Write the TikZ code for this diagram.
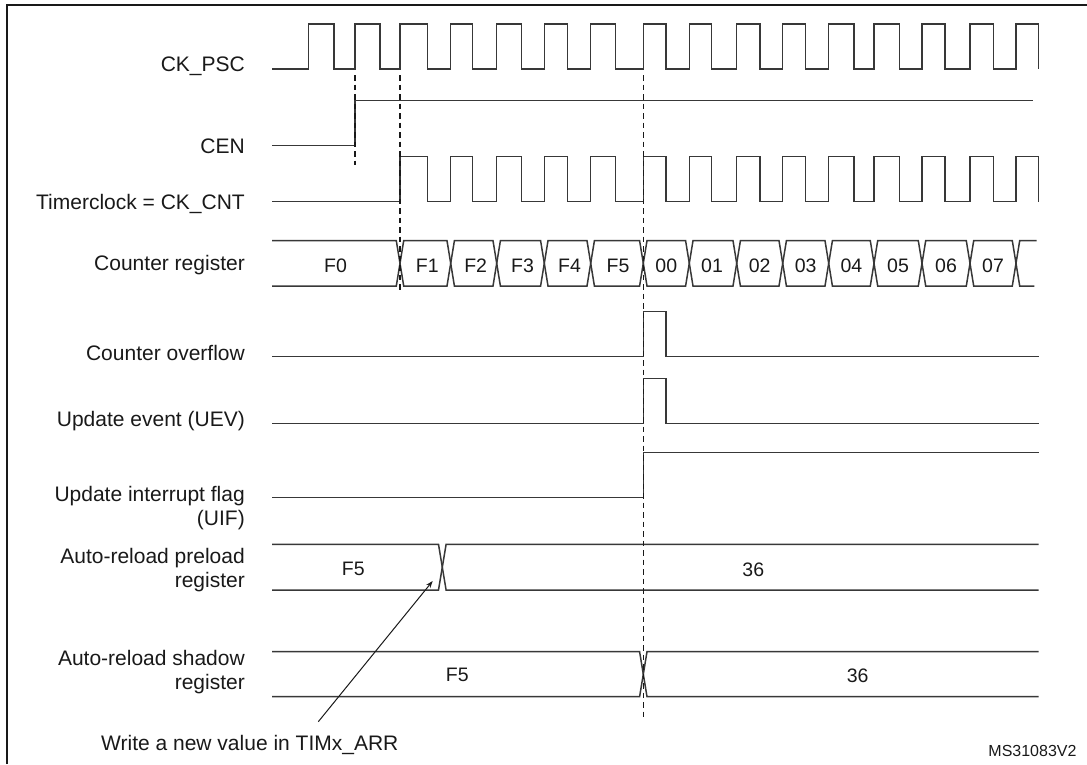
\documentclass[tikz,border=0pt]{standalone}
\usepackage{fontspec}
\setmainfont{Liberation Sans}
\usetikzlibrary{arrows.meta}
\begin{document}
\begin{tikzpicture}[x=1pt,y=-1pt,
  sig/.style={draw=black!78, line width=1.5pt, line join=miter},
  dsh/.style={draw=black!90, line width=1.6pt, dash pattern=on 5.5pt off 4pt},
  lab/.style={inner sep=0pt, anchor=base east, text=black!90, font=\fontsize{21}{24}\selectfont},
  val/.style={inner sep=0pt, anchor=base, text=black!90, font=\fontsize{19.5}{22}\selectfont}]
\useasboundingbox (0,0) rectangle (1087,764);
% frame
\draw[line width=2pt, black!90] (7,764) -- (7,5) -- (1087,5);

% labels
\node[lab] (lckpsc) at (245,71.7) {CK\_PSC};
\node[lab] (lcen) at (245,153) {CEN};
\node[lab] (ltc) at (245,209) {Timerclock = CK\_CNT};
\node[lab] (lcr) at (245,270.7) {Counter register};
\node[lab] (lco) at (245,360) {Counter overflow};
\node[lab] (luev) at (245,426) {Update event (UEV)};
\node[lab] (luif1) at (245,501.7) {Update interrupt flag};
\node[lab] (luif2) at (245,525.7) {(UIF)};
\node[lab] (lpre1) at (245,563) {Auto-reload preload};
\node[lab] (lpre2) at (245,587) {register};
\node[lab] (lsha1) at (245,665) {Auto-reload shadow};
\node[lab] (lsha2) at (245,689) {register};

% CK_PSC
\draw[sig] (272,69) foreach \r/\f in {308.3/334, 355/380, 400/427.7, 450.7/472.7, 496.7/521.7, 544.3/567.3, 590.7/615.7, 643.3/666, 689.3/711.7, 736.7/760, 782.7/805.7, 828.7/854, 874/899.3, 922/945, 970/993.3, 1016/1038.7} { -- (\r,69) -- (\r,24) -- (\f,24) -- (\f,69) };

% CEN
\draw[sig] (272,145.7) -- (355,145.7) -- (355,100.3) -- (1033.3,100.3);

% Timerclock
\draw[sig] (272,201.7) foreach \r/\f in {400/427.7, 450.7/472.7, 496.7/521.7, 544.3/567.3, 590.7/615.7, 643.3/666, 689.3/711.7, 736.7/760, 782.7/805.7, 828.7/854, 874/899.3, 922/945, 970/993.3, 1016/1038.7} { -- (\r,201.7) -- (\r,156.7) -- (\f,156.7) -- (\f,201.7) };

% Counter register
\draw[sig] (272,240.7) -- (396.3,240.7) -- (400,263.3) -- (396.3,286) -- (272,286);
\node[val] (vF0) at (335.5,272) {F0};
\foreach \a/\b/\t/\o in {400/450.7/F1/2, 450.7/496.7/F2/2, 496.7/544.3/F3/2, 544.3/590.7/F4/2, 590.7/643.3/F5/1, 643.3/689.3/00/0, 689.3/736.7/01/-1, 736.7/782.7/02/0, 782.7/828.7/03/0, 828.7/874/04/0, 874/922/05/0, 922/970/06/0, 970/1016/07/0}{
  \draw[sig] (\a,263.3) -- ({\a+3.7},240.7) -- ({\b-3.7},240.7) -- (\b,263.3) -- ({\b-3.7},286) -- ({\a+3.7},286) -- cycle;
  \node[val] (v\t) at ({(\a+\b)/2+\o},272) {\t};
}
\draw[sig] (1036.7,240.7) -- (1019.7,240.7) -- (1016,263.3) -- (1019.7,286) -- (1034.3,286);

% Counter overflow
\draw[sig] (272,356.7) -- (643.3,356.7) -- (643.3,311.7) -- (666,311.7) -- (666,356.7) -- (1039,356.7);
% UEV
\draw[sig] (272,423.3) -- (643.3,423.3) -- (643.3,378.3) -- (666,378.3) -- (666,423.3) -- (1039,423.3);
% UIF
\draw[sig] (272,497.7) -- (643.3,497.7) -- (643.3,452.7) -- (1039,452.7);

% Auto-reload preload
\draw[sig] (272,544.3) -- (438.5,544.3) -- (442.3,567.2) -- (438.5,590) -- (272,590);
\draw[sig] (1038.7,544.3) -- (446.1,544.3) -- (442.3,567.2) -- (446.1,590) -- (1038.7,590);
\node[val] (pF5) at (353.3,575.5) {F5};
\node[val] (p36) at (753.3,576) {36};

% Auto-reload shadow
\draw[sig] (272,651.7) -- (639.6,651.7) -- (643.3,674.2) -- (639.6,696.7) -- (272,696.7);
\draw[sig] (1038.7,651.7) -- (647,651.7) -- (643.3,674.2) -- (647,696.7) -- (1038.7,696.7);
\node[val] (sF5) at (457.3,681.7) {F5};
\node[val] (s36) at (857.7,682.5) {36};

% dashed markers
\draw[dsh] (355,75) -- (355,165);
\draw[dsh] (400,75) -- (400,293);
\draw[dsh] (643.3,75) -- (643.3,717);

% annotation
\node[lab, anchor=base west] (note) at (101,750.7) {Write a new value in TIMx\_ARR};
\coordinate (arrS) at (318.3,721.7);
\coordinate (arrE) at (432.7,581);
\draw[black!90, line width=1pt, -{Stealth[length=7pt,width=5pt]}] (arrS) -- (arrE);

\node[inner sep=0pt, anchor=base east, text=black!90, font=\fontsize{16}{18}\selectfont] (ms) at (1076.7,756.7) {MS31083V2};
\end{tikzpicture}
\end{document}
